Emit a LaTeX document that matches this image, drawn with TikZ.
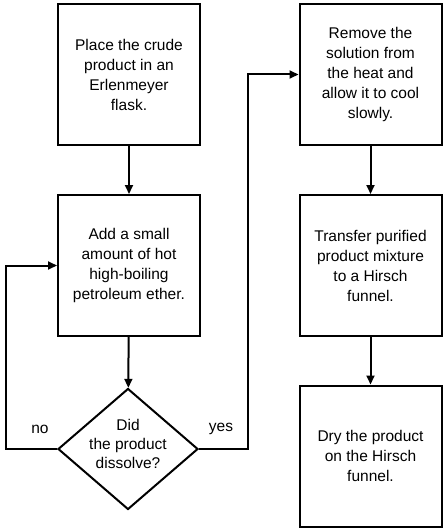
\documentclass[tikz,border=0pt]{standalone}
\usepackage{fontspec}
\setmainfont{Liberation Sans}
\usetikzlibrary{arrows.meta,shapes.geometric}
\begin{document}
\begin{tikzpicture}[x=1pt,y=-1pt,
  every node/.style={font=\fontsize{15.5}{20}\selectfont},
  stepbox/.style={draw,line width=2pt,minimum width=142pt,minimum height=141pt,inner sep=0pt,align=center},
  decision/.style={draw,line width=2pt,diamond,minimum width=140pt,minimum height=121pt,inner sep=0pt},
  conn/.style={line width=2pt,-{Triangle[length=9pt,width=8pt]}},
  lbl/.style={inner sep=0pt}]
\useasboundingbox (0,0) rectangle (444,532);
\node[stepbox] (b1) at (129,74.5) {Place the crude\\product in an\\Erlenmeyer\\flask.};
\node[stepbox] (b2) at (129,265.5) {Add a small\\amount of hot\\high-boiling\\petroleum ether.};
\node[decision] (d) at (128,449) {\makebox[0pt]{\smash{\begin{tabular}{@{}c@{}}Did\\[-1pt]the product\\[-1pt]dissolve?\end{tabular}}}};
\node[stepbox] (b3) at (370.5,74.5) {Remove the\\solution from\\the heat and\\allow it to cool\\slowly.};
\node[stepbox] (b4) at (370.5,265.5) {Transfer purified\\product mixture\\to a Hirsch\\funnel.};
\node[stepbox] (b5) at (370.5,456) {Dry the product\\on the Hirsch\\funnel.};
\coordinate (nl) at (6,449);
\coordinate (yl) at (248,449);
\draw[conn] (b1) -- (b2);
\draw[conn] (b2) -- (d);
\draw[conn] (d.west) -- (nl) |- (b2.west);
\draw[conn] (d.east) -- (yl) |- (b3.west);
\draw[conn] (b3) -- (b4);
\draw[conn] (b4) -- (b5);
\node[lbl] (no) at (40,429) {no};
\node[lbl] (yes) at (221,429) {yes};
\end{tikzpicture}
\end{document}
